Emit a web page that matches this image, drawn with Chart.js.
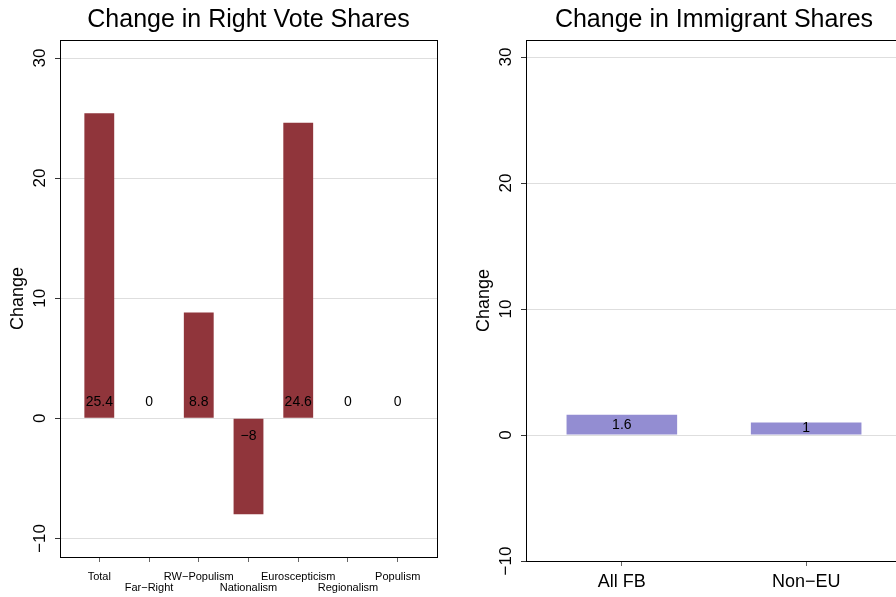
<!DOCTYPE html>
<html><head><meta charset="utf-8">
<script src="https://cdn.jsdelivr.net/npm/chart.js@4"></script>
<style>
html,body{margin:0;padding:0;overflow:hidden;background:#fff;width:896px;height:597px}
#a{position:absolute;left:0;top:0}
#b{position:absolute;left:448px;top:0}
</style></head><body>
<canvas id="a" width="448" height="597"></canvas>
<canvas id="b" width="470" height="597"></canvas>
<script>
// Party-family vote share changes
const voteCategories = ['Total', 'Far\u2212Right', 'RW\u2212Populism', 'Nationalism', 'Euroscepticism', 'Regionalism', 'Populism'];
const voteChange = [25.4, 0, 8.8, -8, 24.6, 0, 0];
// Immigrant share changes
const immigCategories = ['All FB', 'Non\u2212EU'];
const immigChange = [1.6, 1];
// Shared y-axis ticks
const yTicks = [-10, 0, 10, 20, 30];

const FONT = '"Liberation Sans", Arial, Helvetica, sans-serif';
const fmt = v => String(v).replace('-', '\u2212');

// Draws the frame, rotated y labels, titles, x labels and bar value labels
const panelDecor = {
  id: 'panelDecor',
  afterDraw(chart, args, o) {
    const ctx = chart.ctx, a = chart.chartArea;
    const xs = chart.scales.x, ys = chart.scales.y;
    ctx.save();
    // frame
    ctx.strokeStyle = '#000';
    ctx.lineWidth = 1;
    ctx.strokeRect(Math.round(a.left) + 0.5, Math.round(a.top) + 0.5,
      Math.round(a.right - a.left), Math.round(a.bottom - a.top));
    ctx.fillStyle = '#000';
    // y tick labels, rotated
    ctx.font = '17px ' + FONT;
    ctx.textAlign = 'center';
    ctx.textBaseline = 'middle';
    yTicks.forEach(v => {
      const y = ys.getPixelForValue(v);
      ctx.save();
      ctx.translate(a.left - o.yLabelGap, y);
      ctx.rotate(-Math.PI / 2);
      ctx.fillText(fmt(v), 0, 0);
      ctx.restore();
    });
    // y axis title, centred on the plot region
    ctx.save();
    ctx.font = '18px ' + FONT;
    ctx.translate(a.left - o.yTitleGap, (a.top + a.bottom) / 2);
    ctx.rotate(-Math.PI / 2);
    ctx.fillText('Change', 0, 0);
    ctx.restore();
    // chart title
    ctx.font = '25px ' + FONT;
    ctx.fillText(o.title, (a.left + a.right) / 2, 20);
    // x tick labels
    ctx.font = o.xFont + 'px ' + FONT;
    o.categories.forEach((c, i) => {
      const x = xs.getPixelForValue(i);
      const row = o.stagger && i % 2 === 1 ? 1 : 0;
      ctx.fillText(c, x, a.bottom + o.xLabelGap + row * o.rowGap);
    });
    // value labels
    ctx.font = o.valueFont + 'px ' + FONT;
    const meta = chart.getDatasetMeta(0);
    o.values.forEach((v, i) => {
      const bar = meta.data[i];
      let y;
      if (o.valueMode === 'mid') y = (bar.y + bar.base) / 2;
      else y = v >= 0 ? bar.base - 16 : bar.base + 17;
      ctx.fillText(fmt(v), bar.x, y);
    });
    ctx.restore();
  }
};

function makePanel(id, cats, vals, color, xMin, xMax, yMin, yMax, pad, decor) {
  return new Chart(document.getElementById(id), {
    type: 'bar',
    data: {
      datasets: [{
        data: vals.map((v, i) => ({ x: i, y: v })),
        backgroundColor: color,
        borderWidth: 0,
        categoryPercentage: 1,
        barPercentage: 0.6
      }]
    },
    options: {
      responsive: false,
      animation: false,
      devicePixelRatio: 1,
      layout: { padding: pad },
      plugins: {
        legend: { display: false },
        tooltip: { enabled: false },
        panelDecor: Object.assign({ categories: cats, values: vals }, decor)
      },
      scales: {
        x: {
          type: 'linear',
          offset: false,
          min: xMin, max: xMax,
          afterBuildTicks: s => { s.ticks = cats.map((c, i) => ({ value: i })); },
          ticks: { display: false },
          grid: { offset: false, drawOnChartArea: false, drawTicks: true, tickLength: 5, tickColor: '#666', lineWidth: 1 },
          border: { display: false }
        },
        y: {
          type: 'linear',
          min: yMin, max: yMax,
          afterBuildTicks: s => { s.ticks = yTicks.map(v => ({ value: v })); },
          ticks: { display: false },
          grid: { color: '#dedede', lineWidth: 1, drawTicks: true, tickLength: 5, tickColor: '#333' },
          border: { display: false }
        }
      }
    },
    plugins: [panelDecor]
  });
}

makePanel('a', voteCategories, voteChange, 'rgb(144,53,59)', -0.79, 6.79, -11.55, 31.5,
  { left: 55, right: 11, top: 40, bottom: 35 },
  { title: 'Change in Right Vote Shares', xFont: 11, stagger: true, rowGap: 11, xLabelGap: 20,
    valueFont: 14, valueMode: 'base', yLabelGap: 20, yTitleGap: 42 });

makePanel('b', immigCategories, immigChange, 'rgb(147,141,210)', -0.52, 1.52, -10, 31.35,
  { left: 73, right: 16, top: 40, bottom: 31 },
  { title: 'Change in Immigrant Shares', xFont: 18, stagger: false, rowGap: 0, xLabelGap: 21,
    valueFont: 14, valueMode: 'mid', yLabelGap: 20, yTitleGap: 42 });
</script>
</body></html>
